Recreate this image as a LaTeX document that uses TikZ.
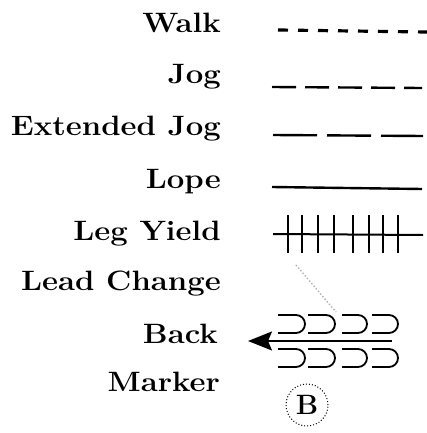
\documentclass[tikz,border=0pt]{standalone}
\usepackage{fontspec}
\usetikzlibrary{arrows.meta}
\newcommand{\gaitname}[1]{\scalebox{1.11}[1]{#1}}
\begin{document}
\begin{tikzpicture}
            \tikzset{x=1pt, y=-1pt}
            \tikzstyle{lbl}=[anchor=base east, inner sep=0pt, font=\fontsize{28}{32}\selectfont\bfseries]
            \tikzstyle{stroke}=[line width=2.4pt]
            \tikzstyle{hook}=[line width=1.8pt]
            \tikzstyle{markring}=[circle, draw, dotted, line width=1pt, minimum size=42pt, inner sep=0pt, font=\fontsize{28}{32}\selectfont\bfseries]

            \useasboundingbox (0, 0) rectangle (427, 433);

            \draw (221, 33)     node[lbl]   (walk)  {\gaitname{Walk}};
            \draw (221, 84)     node[lbl]   (jog)   {\gaitname{Jog}};
            \draw (221, 135)    node[lbl]   (ejog)  {\gaitname{Extended Jog}};
            \draw (221, 188)    node[lbl]   (lope)  {\gaitname{Lope}};
            \draw (221, 240)    node[lbl]   (yield) {\gaitname{Leg Yield}};
            \draw (221, 290)    node[lbl]   (lead)  {\gaitname{Lead Change}};
            \draw (218, 343)    node[lbl]   (back)  {\gaitname{Back}};
            \draw (220, 391)    node[lbl]   (mkr)   {\gaitname{Marker}};

            \coordinate (walk0)  at (278, 30);
            \coordinate (walk1)  at (427, 32);
            \coordinate (jog0)   at (272, 87);
            \coordinate (jog1)   at (422, 88);
            \coordinate (ejog0)  at (273, 135);
            \coordinate (ejog1)  at (423, 136);
            \coordinate (lope0)  at (272, 187);
            \coordinate (lope1)  at (422, 189);
            \coordinate (yield0) at (273, 234);
            \coordinate (yield1) at (423, 235);
            \coordinate (lc0)    at (296, 265);
            \coordinate (lc1)    at (336, 312);
            \coordinate (back0)  at (392, 341);
            \coordinate (back1)  at (248, 341);

            \draw [stroke, line width=3.2pt, dash pattern=on 10pt off 10pt]  (walk0) -- (walk1);
            \draw [stroke, dash pattern=on 24pt off 9pt]    (jog0) -- (jog1);
            \draw [stroke, dash pattern=on 44pt off 10pt]   (ejog0) -- (ejog1);
            \draw [stroke]                                  (lope0) -- (lope1);
            \draw [stroke, line width=2pt]                  (yield0) -- (yield1);
            \foreach \x in {288, 302, 318, 334, 353, 369, 383, 398}
                \draw [stroke, line width=2.8pt] (\x, 215) -- (\x, 253);
            \draw [gray!60, dotted, line width=1.4pt]        (lc0) -- (lc1);

            \draw [hook, -{Stealth[length=24pt, width=19pt, inset=4pt]}] (back0) -- (back1);
            \foreach \xl/\xr in {278/305, 308/335, 342/367, 372/398} {
                \draw [hook] (\xl, 315) -- (\xr-9, 315) arc (-90:90:9) -- (\xl, 333);
                \draw [hook] (\xl, 349) -- (\xr-9, 349) arc (-90:90:9) -- (\xl, 367);
            }

            \draw (307, 405)    node[markring]  (b)     {B};
        \end{tikzpicture}
\end{document}
